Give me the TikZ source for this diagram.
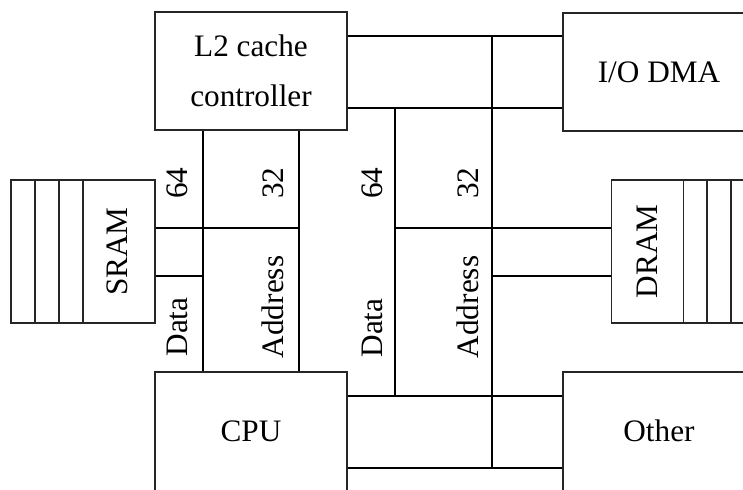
\documentclass[tikz,border=0pt]{standalone}
\usepackage{fontspec}
\setmainfont{Liberation Serif}
\usepackage{tikz}
\usetikzlibrary{positioning}

\begin{document}
\begin{tikzpicture}[
  x=0.4pt, y=-0.4pt,
  every node/.style={font=\fontsize{12.5}{20}\selectfont},
  unit/.style={rectangle, draw=black!85, line width=0.6pt,
               minimum width=76.8pt, minimum height=47.2pt,
               align=center, inner sep=0pt},
  mem/.style={rectangle, draw=black!85, line width=0.6pt,
              minimum width=28.8pt, minimum height=57.2pt,
              inner sep=0pt},
  stripe/.style={draw=black!85, line width=0.6pt},
  bus/.style={draw=black, line width=0.8pt},
  lbl/.style={rotate=90, inner sep=0pt},
]
\useasboundingbox (0,0) rectangle (743,489);
\clip (0,0) rectangle (743,489);

% Units
\node[unit] (l2) at (251,71) {L2 cache \\ controller};
\node[unit] (io) at (659,72) {I/O DMA};
\node[unit, minimum height=50pt] (cpu) at (251,434.5) {};
\node[unit, minimum height=50pt] (other) at (659,434.5) {};
\node (cputxt) at (251,431) {CPU};
\node (othertxt) at (659,431) {Other};

% Memories
\foreach \x in {11,35,59} \draw[stripe] (\x,180) rectangle (\x+24,323);
\foreach \x in {683,707,731} \draw[stripe] (\x,180) rectangle (\x+24,323);
\node[mem, fill=white] (sram) at (119,251.5) {};
\node[mem, fill=white] (dram) at (647.5,251.5) {};
\node[lbl] (sramtxt) at (117,251.5) {SRAM};
\node[lbl] (dramtxt) at (647,251.5) {DRAM};

% Bus columns and rows
\coordinate (d1) at (203,0);
\coordinate (a1) at (299,0);
\coordinate (d2) at (395,0);
\coordinate (a2) at (492,0);
\coordinate (r1) at (0,36);
\coordinate (r2) at (0,108);
\coordinate (r3) at (0,228);
\coordinate (r4) at (0,276);
\coordinate (r5) at (0,396);
\coordinate (r6) at (0,468);

% Local bus
\draw[bus] (l2.south -| d1) -- (cpu.north -| d1);
\draw[bus] (l2.south -| a1) -- (cpu.north -| a1);
\draw[bus] (sram.east |- r3) -- (a1 |- r3);
\draw[bus] (sram.east |- r4) -- (d1 |- r4);

% System bus
\draw[bus] (l2.east |- r1) -- (io.west |- r1);
\draw[bus] (l2.east |- r2) -- (io.west |- r2);
\draw[bus] (cpu.east |- r5) -- (other.west |- r5);
\draw[bus] (cpu.east |- r6) -- (other.west |- r6);
\draw[bus] (a2 |- r1) -- (a2 |- r6);
\draw[bus] (d2 |- r2) -- (d2 |- r5);
\draw[bus] (d2 |- r3) -- (dram.west |- r3);
\draw[bus] (a2 |- r4) -- (dram.west |- r4);

% Width and bus labels
\node[lbl] (w64a) at (177,183) {64};
\node[lbl] (w32a) at (273,183) {32};
\node[lbl] (dataa) at (177,327) {Data};
\node[lbl] (addra) at (273,307) {Address};
\node[lbl] (w64b) at (372,183) {64};
\node[lbl] (w32b) at (468,183) {32};
\node[lbl] (datab) at (372,328) {Data};
\node[lbl] (addrb) at (468,307) {Address};
\end{tikzpicture}
\end{document}
